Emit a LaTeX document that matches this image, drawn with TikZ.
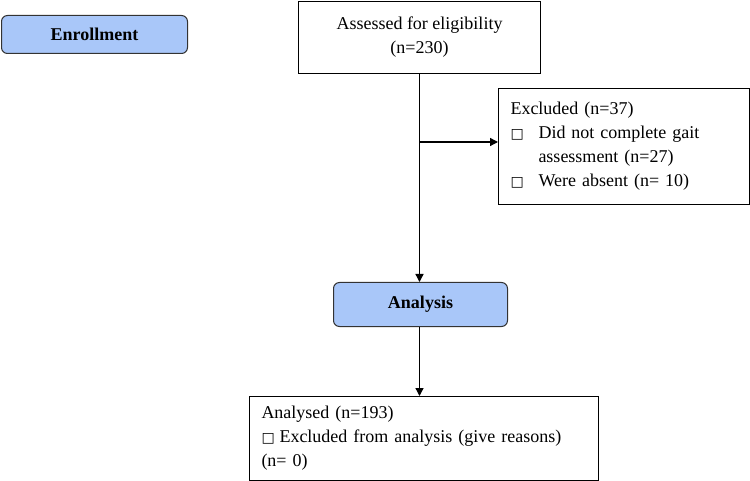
\documentclass[tikz,border=0pt]{standalone}
\usepackage{fontspec}
\setmainfont{Liberation Serif}
\newfontfamily\boxglyph{DejaVu Sans}
\usetikzlibrary{arrows.meta}
\definecolor{phaseblue}{HTML}{A9C7F9}
\newcommand{\sq}{{\boxglyph\fontsize{14}{14}\selectfont □}}

\begin{document}
\begin{tikzpicture}[x=1pt, y=-1pt, font=\fontsize{18}{24}\selectfont,
    box/.style={draw, rectangle, anchor=north west, inner sep=0pt, line width=1pt},
    phase/.style={draw=black!80, fill=phaseblue, rounded corners=6pt, anchor=north west, inner sep=0pt, line width=1pt, font=\fontsize{18}{24}\selectfont\bfseries},
    arr/.style={-{Triangle[length=8pt, width=8pt]}, line width=1.3pt}]
    \useasboundingbox (0,0) rectangle (750,481);

    % Phases
    \node[phase, minimum width=186pt, minimum height=38pt] (enroll) at (1,15) {Enrollment};
    \node[phase, minimum width=174pt, minimum height=44pt] (analysis) at (333,282) {Analysis};

    % Boxes
    \node[box, minimum width=242pt, minimum height=72pt, align=center] (assess) at (298,1) {Assessed for eligibility\\(n=230)};
    \node[box, minimum width=251pt, minimum height=116pt, text width=227pt, inner xsep=12pt, align=left] (excl) at (498,88)
        {Excluded (n=37)\\\makebox[28pt][l]{\sq}Did not complete gait\\\hspace*{28pt}assessment (n=27)\\\makebox[28pt][l]{\sq}Were absent (n= 10)};
    \node[box, minimum width=349pt, minimum height=84pt, text width=325pt, inner xsep=12pt, align=left] (analysed) at (249,396)
        {Analysed (n=193)\\\makebox[18pt][l]{\sq}Excluded from analysis (give reasons)\\(n= 0)};

    % Connectors
    \coordinate (split) at (assess.south |- 0,142);
    \draw[arr] (assess.south) -- (assess.south |- analysis.north);
    \draw[arr] (split) -- (split -| excl.west);
    \draw[arr] (assess.south |- analysis.south) -- (assess.south |- analysed.north);

\end{tikzpicture}
\end{document}
